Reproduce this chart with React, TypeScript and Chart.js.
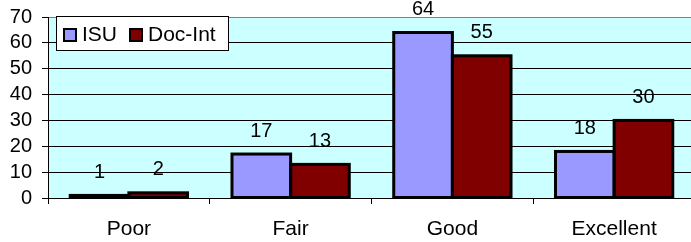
import React, { useEffect, useRef } from "react";
import { Chart, registerables } from "chart.js";

Chart.register(...registerables);

const categories = ["Poor", "Fair", "Good", "Excellent"];
const isuValues = [1, 17, 64, 18];
const docIntValues = [2, 13, 55, 30];
const seriesNames = ["ISU", "Doc-Int"];
const seriesColors = ["#9999FF", "#800000"];

const FONT = "'Liberation Sans', Arial, sans-serif";

export default function App() {
  const ref = useRef<HTMLCanvasElement | null>(null);

  useEffect(() => {
    document.body.style.margin = "0";
    document.body.style.overflow = "hidden";
    const canvas = ref.current;
    if (!canvas) return;

    const bgPlugin = {
      id: "plotBg",
      beforeDraw(chart: any) {
        const { ctx, chartArea } = chart;
        ctx.save();
        ctx.fillStyle = "#CCFFFF";
        ctx.fillRect(chartArea.left, chartArea.top, chartArea.right - chartArea.left, chartArea.bottom - chartArea.top);
        ctx.restore();
      },
    };

    const labelPlugin = {
      id: "valueLabels",
      afterDatasetsDraw(chart: any) {
        const { ctx } = chart;
        ctx.save();
        ctx.strokeStyle = "#000";
        ctx.lineWidth = 3;
        ctx.lineJoin = "miter";
        chart.data.datasets.forEach((_ds: any, di: number) => {
          const meta = chart.getDatasetMeta(di);
          meta.data.forEach((bar: any) => {
            const p = bar.getProps(["x", "y", "base", "width"], true);
            ctx.strokeRect(p.x - p.width / 2, p.y, p.width, p.base - p.y);
          });
        });
        ctx.font = `20px ${FONT}`;
        ctx.fillStyle = "#000";
        ctx.textAlign = "center";
        ctx.textBaseline = "middle";
        chart.data.datasets.forEach((ds: any, di: number) => {
          const meta = chart.getDatasetMeta(di);
          meta.data.forEach((bar: any, i: number) => {
            ctx.fillText(String(ds.data[i]), bar.x, bar.y - 23);
          });
        });
        ctx.restore();
      },
    };

    const legendPlugin = {
      id: "boxLegend",
      afterDraw(chart: any) {
        const { ctx } = chart;
        ctx.save();
        ctx.fillStyle = "#fff";
        ctx.fillRect(56, 16, 172, 34);
        ctx.strokeStyle = "#000";
        ctx.lineWidth = 1;
        ctx.strokeRect(56.5, 16.5, 172, 34);
        const items = [
          { x: 63, tx: 82 },
          { x: 129, tx: 148 },
        ];
        ctx.font = `21px ${FONT}`;
        ctx.textBaseline = "middle";
        ctx.textAlign = "left";
        items.forEach((it, i) => {
          ctx.fillStyle = seriesColors[i];
          ctx.fillRect(it.x, 28, 13, 13);
          ctx.strokeStyle = "#000";
          ctx.lineWidth = 2;
          ctx.strokeRect(it.x + 1, 29, 12, 12);
          ctx.fillStyle = "#000";
          ctx.fillText(seriesNames[i], it.tx, 35);
        });
        ctx.restore();
      },
    };

    const chart = new Chart(canvas, {
      type: "bar",
      data: {
        labels: categories,
        datasets: [
          {
            label: seriesNames[0],
            data: isuValues,
            backgroundColor: seriesColors[0],
            borderWidth: 0,
            categoryPercentage: 0.725,
            barPercentage: 1,
          },
          {
            label: seriesNames[1],
            data: docIntValues,
            backgroundColor: seriesColors[1],
            borderWidth: 0,
            categoryPercentage: 0.725,
            barPercentage: 1,
          },
        ],
      },
      options: {
        responsive: false,
        animation: false,
        layout: { padding: { top: 17, left: 0, right: 0, bottom: 0 } },
        plugins: {
          legend: { display: false },
          tooltip: { enabled: false },
        },
        scales: {
          x: {
            offset: true,
            grid: {
              offset: true,
              drawOnChartArea: false,
              drawTicks: true,
              tickLength: 6,
              color: "#000",
            },
            border: { color: "#000", width: 1 },
            ticks: {
              color: "#000",
              font: { family: FONT, size: 21 },
              padding: 13,
              autoSkip: false,
              maxRotation: 0,
            },
            afterFit(scale: any) {
              scale.height = 44;
              scale.paddingLeft = 0;
              scale.paddingRight = 0;
            },
          },
          y: {
            min: 0,
            max: 70,
            ticks: {
              stepSize: 10,
              autoSkip: false,
              color: "#000",
              font: { family: FONT, size: 20 },
              padding: 10,
            },
            grid: {
              color: (c: any) => (c.tick && c.tick.value === 70 ? "#808080" : "#000"),
              tickColor: "#000",
              tickLength: 6,
              lineWidth: 1,
            },
            border: { color: "#000", width: 1 },
            afterFit(scale: any) {
              scale.width = 48;
              scale.paddingTop = 0;
              scale.paddingBottom = 0;
            },
          },
        },
      },
      plugins: [bgPlugin, labelPlugin, legendPlugin],
    });

    return () => chart.destroy();
  }, []);

  return (
    <div style={{ width: 691, height: 242, overflow: "hidden", background: "#fff" }}>
      <canvas ref={ref} width={695} height={242} style={{ display: "block" }} />
    </div>
  );
}
